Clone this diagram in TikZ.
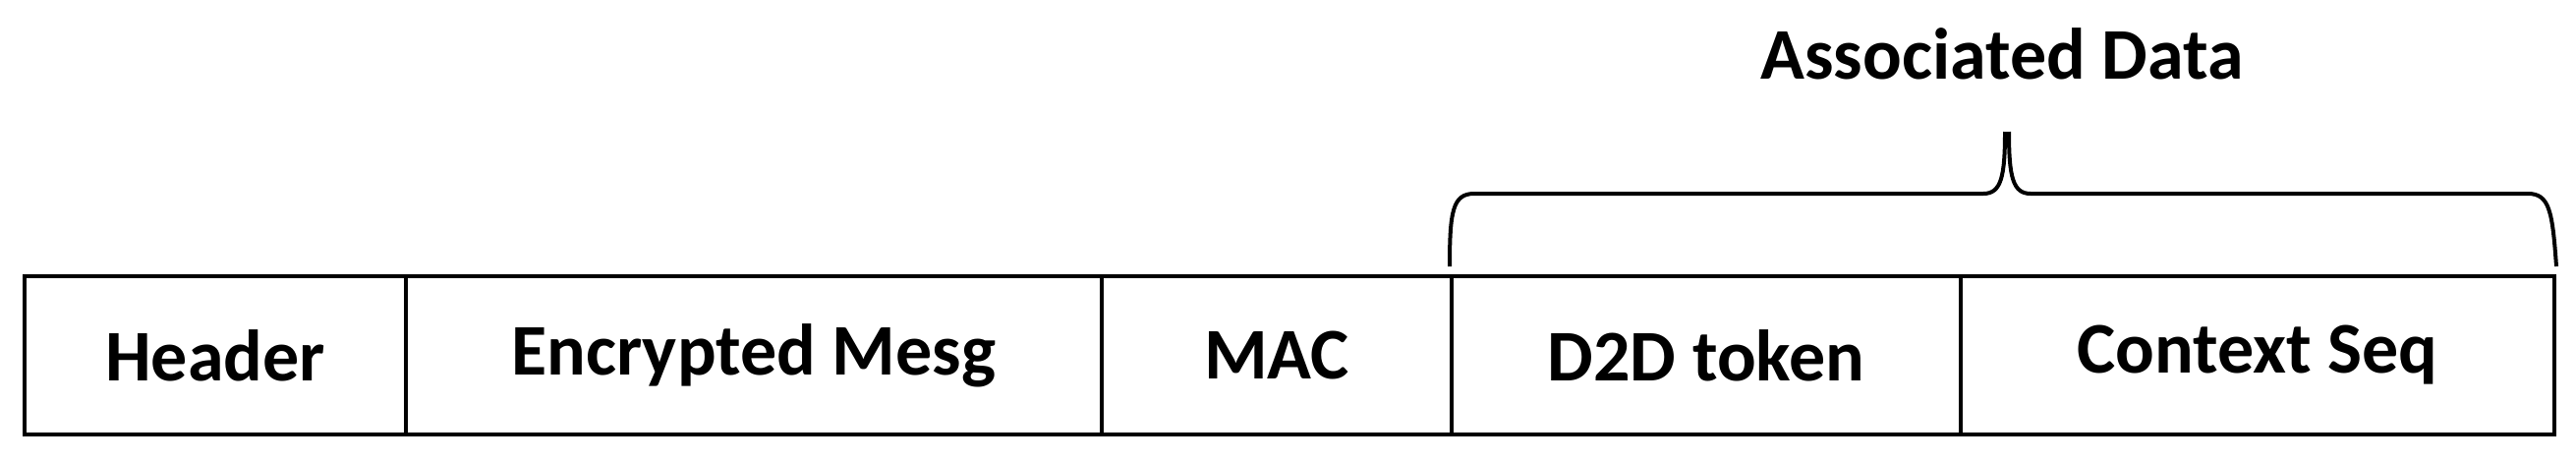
\documentclass[tikz,border=0pt]{standalone}
\usepackage{fontspec}
\setmainfont{Carlito}
\begin{document}
\begin{tikzpicture}[x=1pt,y=-1pt,line width=4pt,
  cell/.style={draw,minimum height=161pt,inner sep=0pt,font=\fontsize{74}{80}\selectfont\bfseries,anchor=north west}]
\useasboundingbox (0,0) rectangle (2621,469);
\node[cell,minimum width=388pt] (h) at (23,279) {Header};
\node[cell,minimum width=708pt] (e) at (411,279) {Encrypted Mesg};
\node[cell,minimum width=356pt] (m) at (1119,279) {MAC};
\node[cell,minimum width=518pt] (d) at (1475,279) {D2D token};
\node[cell,minimum width=604pt] (c) at (1993,279) {Context Seq};
\node[font=\fontsize{74}{80}\selectfont\bfseries] (ad) at (2037,55) {Associated Data};
\draw (d.north west) ++(0,-8) .. controls (1475,215) and (1478,197) .. (1500,197)
  -- (2018,197) .. controls (2036,197) and (2040,180) .. (2040,134);
\draw (c.north east) ++(0,-8) .. controls (2597,215) and (2594,197) .. (2572,197)
  -- (2066,197) .. controls (2048,197) and (2044,180) .. (2044,134);
\end{tikzpicture}
\end{document}
